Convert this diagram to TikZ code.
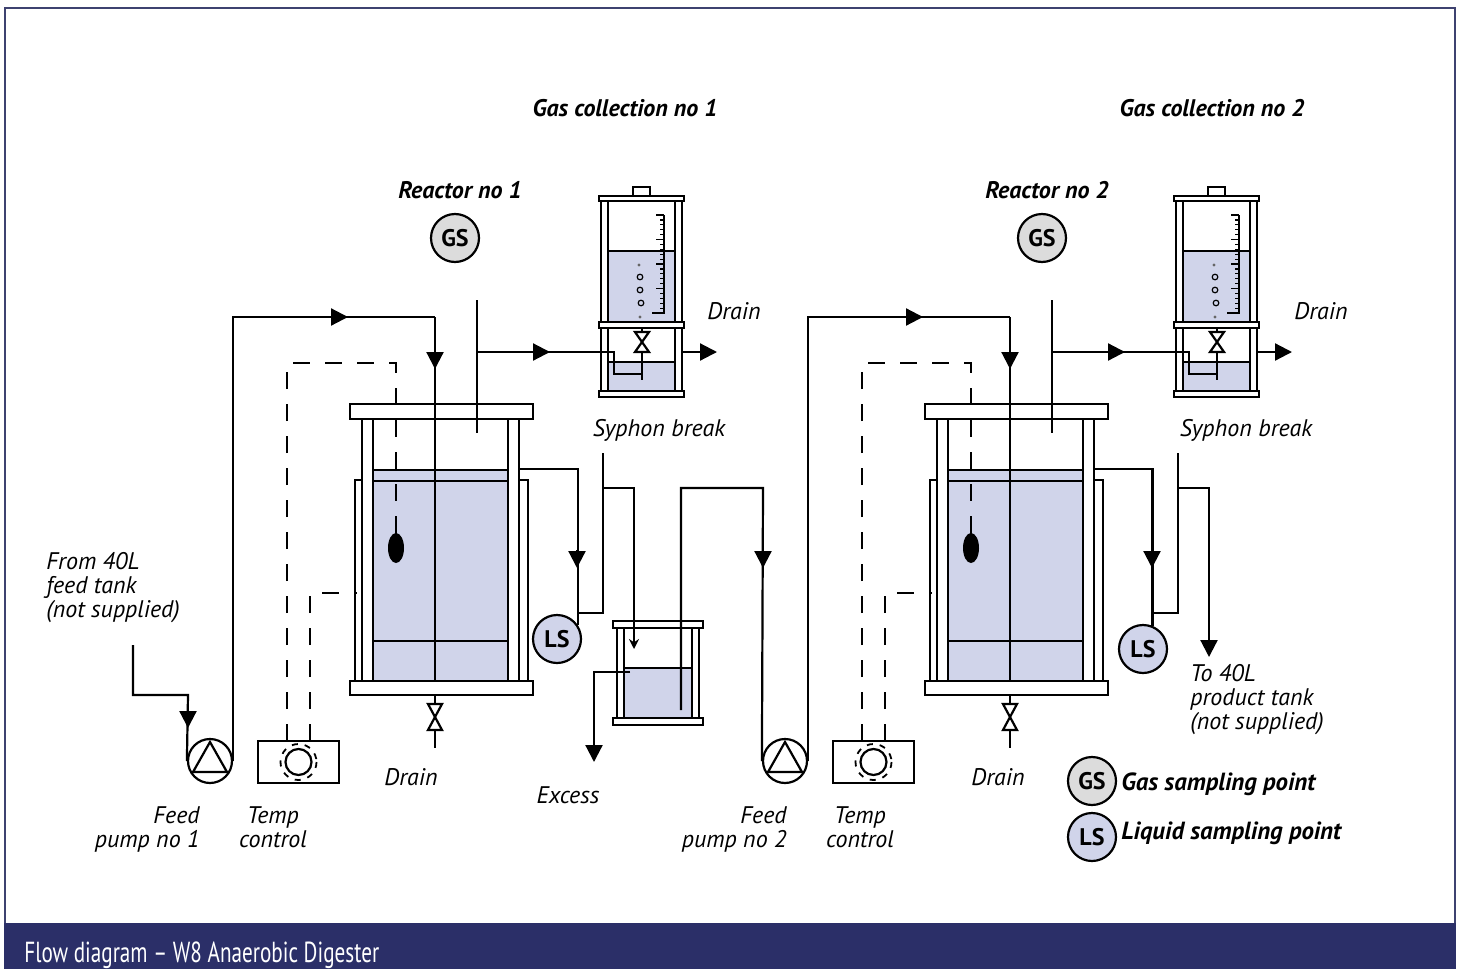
\documentclass[tikz,border=0pt]{standalone}
\usepackage{fontspec}
\setmainfont{PT Sans}
\newfontfamily\barfont[FakeStretch=0.73]{PT Sans}
\usetikzlibrary{arrows.meta}
\definecolor{liquid}{RGB}{208,212,234}
\definecolor{gsgrey}{RGB}{220,220,220}
\definecolor{navy}{RGB}{43,47,104}
\definecolor{framecol}{RGB}{62,66,112}
\tikzset{
  pipe/.style={line width=1.1pt},
  flowtip/.style={line width=1.1pt,-{Triangle[length=8.5pt,width=8.5pt]}},
  probe/.style={line width=1.1pt,dash pattern=on 8.5pt off 7.5pt},
  wall/.style={line width=1.1pt,fill=white},
  sample/.style={circle,draw,line width=1.1pt,minimum size=24pt,inner sep=0pt,font=\bfseries\fontsize{12}{12}\selectfont},
  pumpc/.style={circle,draw,line width=1.1pt,minimum size=22pt,inner sep=0pt},
  tbox/.style={draw,line width=1.1pt,minimum width=40.5pt,minimum height=21pt,inner sep=0pt},
  lbl/.style={font=\itshape\fontsize{12}{12}\selectfont,inner sep=0pt},
  head/.style={font=\bfseries\itshape\fontsize{12}{12}\selectfont,inner sep=0pt},
  pics/valve/.style={code={\draw[wall] (-7,-#1) -- (7,-#1) -- (-7,#1) -- (7,#1) -- cycle;}},
}
\begin{document}
\begin{tikzpicture}[x=0.5pt,y=-0.5pt]
\useasboundingbox (0,0) rectangle (1461,969);
% frame and title bar
\fill[navy] (4,923) rectangle (1456,969);
\draw[framecol,line width=1pt] (5,923) -- (5,8) -- (1455,8) -- (1455,923);
\node[anchor=base west,text=white,font=\barfont\fontsize{14.5}{14.5}\selectfont,inner sep=0pt] (title) at (24,962) {Flow diagram – W8 Anaerobic Digester};

% the two reactor lines
\foreach \dx/\lx/\n in {0/0/1,575/587/2}{
\begin{scope}[shift={(\dx,0)}]
  % reactor vessel
  \draw[wall] (355,480) rectangle (528,681);
  \draw[wall] (362,419) rectangle (373,681);
  \draw[wall] (508,419) rectangle (519,681);
  \draw[pipe,fill=liquid] (373,470) rectangle (508,681);
  \draw[pipe] (373,481) -- (508,481) (373,641) -- (508,641);
  \draw[wall] (350,404) rectangle (533,419);
  \draw[wall] (350,681) rectangle (533,695);
  % feed and gas pipes
  \coordinate (feed\n) at (435,317);
  \draw[pipe] (feed\n) -- (435,681);
  \draw[pipe] (477,300) -- (477,433);
  % temperature probe
  \draw[probe] (287,741) -- (287,363) -- (396,363) -- (396,522);
  \draw[pipe] (396,520) -- (396,535);
  \fill (396,548) ellipse[x radius=8,y radius=15];
  \draw[probe] (310,741) -- (310,593) -- (357,593);
  \node[tbox] (temp\n) at (298.5,762) {};
  \draw[pipe] (temp\n.center) circle[radius=13];
  \draw[line width=0.9pt,dash pattern=on 3pt off 3.5pt] (temp\n.center) circle[radius=18];
  % feed pump
  \node[pumpc] (pump\n) at (210,761) {};
  \draw[pipe] (210,742) -- (193,772) -- (227,772) -- cycle;
  \draw[pipe] (pump\n.east) |- (feed\n);
  \draw[flowtip] (330,317) -- (348,317);
  \draw[flowtip] (435,351) -- (435,369);
  % drain
  \draw[pipe] (435,695) -- (435,748);
  \pic at (435,717) {valve=13};
  % gas collection
  \draw[wall] (633,187) rectangle (650,196);
  \draw[wall] (599,196) rectangle (684,201);
  \draw[wall] (601,201) rectangle (608,322);
  \draw[wall] (675,201) rectangle (682,322);
  \draw[pipe,fill=liquid] (608,251) rectangle (675,322);
  \draw[line width=0.7pt] (664,215) -- (664,313) -- (652,313);
  \foreach \i in {0,...,20} \draw[line width=0.6pt] (660,215+4.9*\i) -- (664,215+4.9*\i);
  \foreach \i in {0,5,...,20} \draw[line width=0.6pt] (656,215+4.9*\i) -- (664,215+4.9*\i);
  \fill[black!60] (639,265) circle[radius=1.6] (640,317) circle[radius=1.6];
  \draw[line width=0.6pt] (640,277) circle[radius=2.8] (640,290) circle[radius=2.8] (641,303) circle[radius=2.8];
  \draw[wall] (599,322) rectangle (684,328);
  \draw[wall] (601,328) rectangle (608,391);
  \draw[wall] (675,328) rectangle (682,391);
  \draw[pipe,fill=liquid] (608,362) rectangle (675,391);
  \draw[wall] (599,391) rectangle (684,397);
  \draw[pipe] (642,328) -- (642,380);
  \pic at (642,342) {valve=10};
  \coordinate (gasin\n) at (614,352);
  \draw[pipe] (477,352) -- (gasin\n) -- (614,374) -- (642,374);
  \draw[flowtip] (532,352) -- (550,352);
  \draw[flowtip] (682,352) -- (717,352);
\end{scope}
\begin{scope}[shift={(\lx,0)}]
  \node[sample,fill=gsgrey] (gs\n) at (455,238) {GS};
  \node[head,anchor=base] (reactorlbl\n) at (460,198) {Reactor no \n};
  \node[head,anchor=base] (gaslbl\n) at (625,116) {Gas collection no \n};
  \node[lbl,anchor=base west] (gasdrainlbl\n) at (707,319) {Drain};
  \node[lbl,anchor=base] (syphonlbl\n) at (659,436) {Syphon break};
  \node[lbl,anchor=base] (drainlbl\n) at (411,785) {Drain};
  \node[lbl,anchor=north east,align=right] (pumplbl\n) at (200,806) {Feed\\pump no \n};
  \node[lbl,anchor=north,align=center] (templbl\n) at (273,806) {Temp\\control};
\end{scope}
}

% feed into pump 1
\node[lbl,anchor=north west,align=left] (feedtanklbl) at (46,552) {From 40L\\feed tank\\(not supplied)};
\coordinate (feedtank) at (133,645);
\draw[pipe] (feedtank) |- (188,695) -- (pump1.west);
\draw[flowtip] (188,710) -- (188,728);

% reactor 1 outflow and excess tank
\draw[wall] (617,628) rectangle (624,718);
\draw[wall] (692,628) rectangle (699,718);
\draw[pipe,fill=liquid] (624,668) rectangle (692,718);
\draw[wall] (613,621) rectangle (703,628);
\draw[wall] (613,718) rectangle (703,725);
\node[sample,fill=liquid] (ls1) at (557,639) {LS};
\draw[pipe] (519,469) -| (ls1.34);
\draw[flowtip] (577,550) -- (577,568);
\draw[pipe] (577,613) -- (603,613) -- (603,453);
\draw[pipe,-{Stealth[length=5pt,width=5pt]}] (603,488) -| (634,649);
\draw[flowtip] (630,672) -| (594,762);
\node[lbl,anchor=base] (excesslbl) at (568,803) {Excess};
\draw[pipe] (681,710) |- (763,488) -- (pump2.west);
\draw[flowtip] (763,550) -- (763,568);

% reactor 2 outflow
\node[sample,fill=liquid] (ls2) at (1143,649) {LS};
\draw[pipe] (1094,469) -| (ls2.68);
\draw[flowtip] (1152,550) -- (1152,568);
\draw[pipe] (1152,613) -- (1178,613) -- (1178,453);
\draw[flowtip] (1178,488) -| (1209,657);
\node[lbl,anchor=north west,align=left] (productlbl) at (1190,664) {To 40L\\product tank\\(not supplied)};

% key
\node[sample,fill=gsgrey] (keygs) at (1092,781) {GS};
\node[head,anchor=base west,font=\bfseries\itshape\fontsize{12.4}{12.4}\selectfont] (keygslbl) at (1121,790) {Gas sampling point};
\node[sample,fill=liquid] (keyls) at (1092,837) {LS};
\node[head,anchor=base west,font=\bfseries\itshape\fontsize{12.4}{12.4}\selectfont] (keylslbl) at (1121,839) {Liquid sampling point};
\end{tikzpicture}
\end{document}
